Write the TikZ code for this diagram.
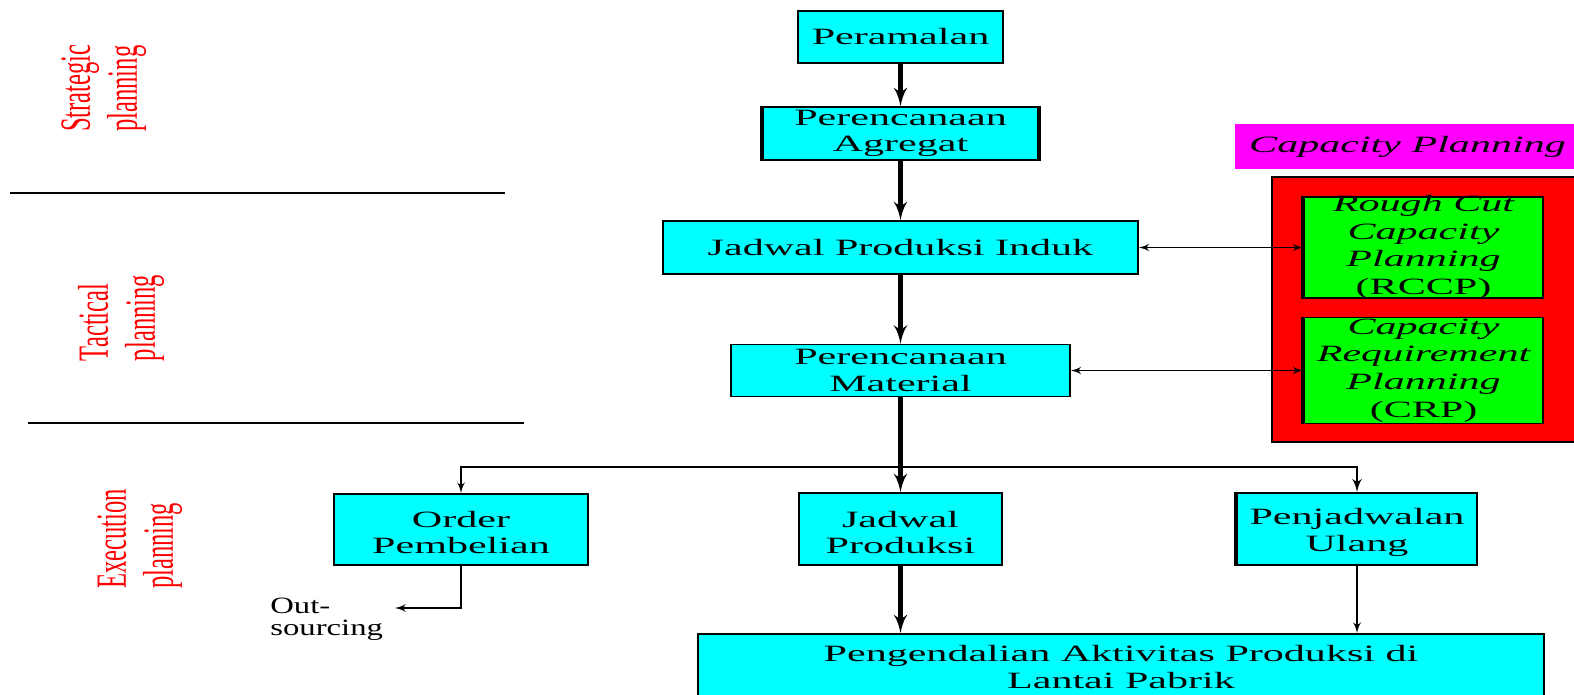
\documentclass[tikz,border=0pt]{standalone}
\usepackage{fontspec}
\usepackage{tikz}
\usetikzlibrary{arrows}
\newfontfamily\boxfont{Liberation Serif}[FakeStretch=1.8]
\newfontfamily\sidefont{Liberation Serif}[FakeStretch=1.4]
\newfontfamily\lblfont{Liberation Serif}
\definecolor{boxcyan}{RGB}{0,255,255}
\definecolor{boxgreen}{RGB}{0,255,0}
\definecolor{framered}{RGB}{255,0,0}
\definecolor{tagmagenta}{RGB}{255,0,255}

\begin{document}
\begin{tikzpicture}
	[x=0.02cm,y=-0.02cm,
	box/.style={draw,line width=1pt,fill=boxcyan,inner sep=0pt,align=center,font=\boxfont\fontsize{13.3}{15}\selectfont},
	capbox/.style={box,fill=boxgreen,inner ysep=-4pt,font=\boxfont\itshape\fontsize{13.3}{15.7}\selectfont},
	lvl/.style={rotate=90,text=framered,inner sep=0pt,font=\lblfont\fontsize{14}{15.3}\selectfont},
	edge/.style={->,> = latex',line width=1.1pt},
	trunk/.style={edge,line width=2.6pt},
	both/.style={<->,> = latex',line width=1pt},
	sep/.style={line width=1.1pt}]
	\path[fill=white,use as bounding box] (0,0) rectangle (1574,694);

	% levels
	\node[lvl] (strat) at (104,88) {\scalebox{1}[1.75]{\begin{tabular}{@{}l@{}}Strategic\\planning\end{tabular}}};
	\node[lvl] (tact) at (122,318) {\scalebox{1}[1.75]{\begin{tabular}{@{}l@{}}Tactical\\planning\end{tabular}}};
	\node[lvl] (exec) at (140,539) {\scalebox{1}[1.75]{\begin{tabular}{@{}l@{}}Execution\\planning\end{tabular}}};
	\draw[sep] (10,193) -- (505,193);
	\draw[sep] (28,423) -- (524,423);

	% main flow
	\node[box,minimum width=4.1cm,minimum height=1.04cm] (per) at (900.5,37) {Peramalan};
	\node[box,minimum width=5.5cm,minimum height=1.06cm] (pa) at (900.5,133.5) {Perencanaan\\Agregat};
	\node[box,minimum width=9.5cm,minimum height=1.06cm] (jpi) at (900.5,247.5) {Jadwal Produksi Induk};
	\node[box,minimum width=6.78cm,minimum height=1.04cm] (pm) at (900.5,370.5) {Perencanaan\\Material};
	\node[box,minimum width=5.08cm,minimum height=1.42cm,text height=28pt] (op) at (461,529.5) {Order\\Pembelian};
	\node[box,minimum width=4.06cm,minimum height=1.44cm,text height=28pt] (jp) at (900.5,529) {Jadwal\\Produksi};
	\node[box,minimum width=4.8cm,minimum height=1.44cm,text height=28pt] (pu) at (1357,529) {Penjadwalan\\Ulang};
	\node[box,minimum width=16.92cm,minimum height=1.32cm] (pap) at (1121,667) {Pengendalian Aktivitas Produksi di\\Lantai Pabrik};
	\node[inner sep=0pt,anchor=west,align=left,font=\sidefont\fontsize{13.3}{12.5}\selectfont] (out) at (270,619) {Out-\\sourcing};
	\draw[line width=2.5pt] (pa.north west) -- (pa.south west);
	\draw[line width=2.5pt] (pa.north east) -- (pa.south east);
	\draw[line width=2.5pt] (pu.north west) -- (pu.south west);

	% capacity planning
	\node[fill=tagmagenta,inner sep=0pt,minimum width=6.9cm,minimum height=0.9cm,font=\boxfont\itshape\fontsize{13.3}{15}\selectfont] (cap) at (1407.5,146.5) {Capacity Planning};
	\node[draw,line width=1pt,fill=framered,minimum width=6.16cm,minimum height=5.3cm] (frame) at (1426,309.5) {};
	\node[capbox,minimum width=4.78cm,minimum height=2.02cm] (rccp) at (1423.5,247.5) {Rough Cut\\Capacity\\Planning\\\upshape(RCCP)};
	\node[capbox,minimum width=4.78cm,minimum height=2.12cm] (crp) at (1423.5,370.5) {Capacity\\Requirement\\Planning\\\upshape(CRP)};
	\draw[line width=2.5pt] (rccp.north west) -- (rccp.south west);
	\draw[line width=2.5pt] (crp.north west) -- (crp.south west);

	\coordinate (split) at (900.5,467);
	\coordinate (outtip) at (395,608);

	\draw[trunk] (per) -- (pa);
	\draw[trunk] (pa) -- (jpi);
	\draw[trunk] (jpi) -- (pm);
	\draw[trunk] (pm) -- (jp);
	\draw[edge] (split) -| (op);
	\draw[edge,line width=1.6pt] (split) -| (pu);
	\draw[trunk] (jp) -- (jp.south |- pap.north);
	\draw[edge] (pu) -- (pu.south |- pap.north);
	\draw[edge] (op) |- (outtip);
	\draw[both] (jpi) -- (rccp);
	\draw[both] (pm) -- (crp);
\end{tikzpicture}
\end{document}
